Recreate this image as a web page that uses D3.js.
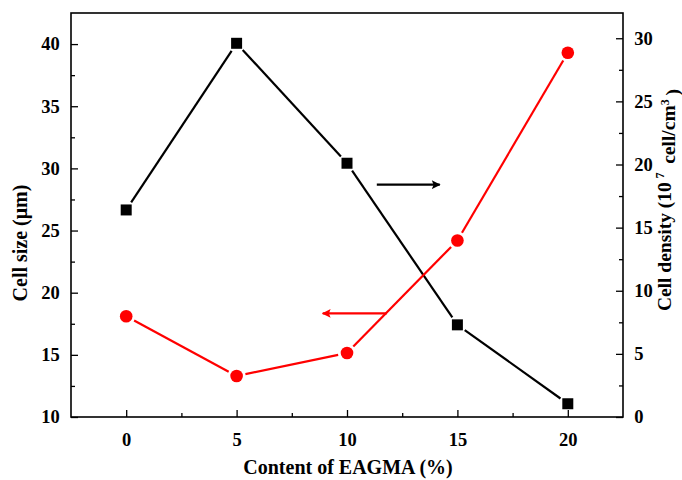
<!DOCTYPE html>
<html>
<head>
<meta charset="utf-8">
<script src="https://cdn.jsdelivr.net/npm/d3@7"></script>
<style>
  html, body { margin: 0; padding: 0; background: #fff; }
  svg { display: block; }
  text { font-family: "Liberation Serif", "Times New Roman", serif; font-weight: bold; fill: #000; }
</style>
</head>
<body>
<svg id="chart" width="682" height="480"></svg>
<script>
// EAGMA content (%)
const content = [0, 5, 10, 15, 20];
// Cell size (µm), left axis
const cellSize = [18.1, 13.3, 15.15, 24.2, 39.3];
// Cell density (10^7 cell/cm^3), right axis
const cellDensity = [16.4, 29.6, 20.1, 7.3, 1.05];

const xTicks = [0, 5, 10, 15, 20];
const leftTicks = [10, 15, 20, 25, 30, 35, 40];
const rightTicks = [0, 5, 10, 15, 20, 25, 30];

const svg = d3.select("#chart");
const m = { left: 71, right: 59, top: 13, bottom: 63 };
const W = 682, H = 480;
const iw = W - m.left - m.right, ih = H - m.top - m.bottom;

const x = d3.scaleLinear().domain([-2.5, 22.5]).range([m.left, m.left + iw]);
const yL = d3.scaleLinear().domain([10, 42.5]).range([m.top + ih, m.top]);
const yR = d3.scaleLinear().domain([0, 32]).range([m.top + ih, m.top]);

const minor = (lo, hi, step) => d3.range(lo, hi + 1e-9, step);

// inward major and minor ticks
function drawAxis(axisFn, scale, ticks, minors, transform) {
  const gMinor = svg.append("g").attr("transform", transform)
    .call(axisFn(scale).tickValues(minors).tickSize(-4).tickFormat(""));
  gMinor.select(".domain").remove();
  gMinor.selectAll("line").attr("stroke", "#000").attr("stroke-width", 1.3);
  const g = svg.append("g").attr("transform", transform)
    .call(axisFn(scale).tickValues(ticks).tickSize(-7).tickPadding(13).tickFormat(d3.format("d")));
  g.select(".domain").remove();
  g.selectAll("line").attr("stroke", "#000").attr("stroke-width", 1.3);
  g.selectAll("text").style("font-size", "18.5px");
  return g;
}

const gx = drawAxis(d3.axisBottom, x, xTicks,
  minor(-2.5, 22.5, 2.5).filter(v => !xTicks.includes(v) && v > -2.5 && v < 22.5),
  `translate(0,${m.top + ih})`);
gx.selectAll("text").attr("dy", "0.85em");
const gl = drawAxis(d3.axisLeft, yL, leftTicks,
  minor(10, 42.5, 2.5).filter(v => !leftTicks.includes(v) && v > 10 && v < 42.5),
  `translate(${m.left},0)`);
gl.selectAll("text").attr("dx", "0.1em");
const gr = drawAxis(d3.axisRight, yR, rightTicks,
  minor(0, 32, 2.5).filter(v => !rightTicks.includes(v) && v > 0 && v < 32),
  `translate(${m.left + iw},0)`);
gr.selectAll("text").attr("dx", "-0.1em");

// frame
svg.append("rect")
  .attr("x", m.left).attr("y", m.top).attr("width", iw).attr("height", ih)
  .attr("fill", "none").attr("stroke", "#000").attr("stroke-width", 1.6);

// connecting segments with small gaps at the markers
function gappedSegments(xs, ys, ysc, gap) {
  const pts = xs.map((v, i) => [x(v), ysc(ys[i])]);
  const segs = [];
  for (let i = 0; i < pts.length - 1; i++) {
    const [x1, y1] = pts[i], [x2, y2] = pts[i + 1];
    const len = Math.hypot(x2 - x1, y2 - y1);
    const ux = (x2 - x1) / len, uy = (y2 - y1) / len;
    segs.push([x1 + ux * gap, y1 + uy * gap, x2 - ux * gap, y2 - uy * gap]);
  }
  return segs;
}

function drawSeries(ys, ysc, color, shape) {
  const g = svg.append("g");
  g.selectAll("line").data(gappedSegments(content, ys, ysc, 9)).join("line")
    .attr("x1", d => d[0]).attr("y1", d => d[1]).attr("x2", d => d[2]).attr("y2", d => d[3])
    .attr("stroke", color).attr("stroke-width", 2.2);
  const sym = d3.symbol().type(shape === "square" ? d3.symbolSquare : d3.symbolCircle)
    .size(shape === "square" ? 121 : 125);
  g.selectAll("path").data(content).join("path")
    .attr("d", sym)
    .attr("transform", (d, i) => `translate(${x(d)},${ysc(ys[i])})`)
    .attr("fill", color);
}

drawSeries(cellDensity, yR, "#000", "square");
drawSeries(cellSize, yL, "#ff0000", "circle");

// arrows pointing to each series' axis
const defs = svg.append("defs");
function marker(id, color) {
  defs.append("marker").attr("id", id).attr("viewBox", "0 0 10 10")
    .attr("refX", 9).attr("refY", 5).attr("markerWidth", 5).attr("markerHeight", 4)
    .attr("markerUnits", "strokeWidth").attr("orient", "auto")
    .append("path").attr("d", "M0,0 L10,5 L0,10 L2,5 Z").attr("fill", color);
}
marker("arrBlack", "#000");
marker("arrRed", "#ff0000");

const densityArrow = { from: 11.35, to: 14.2, value: 18.4 };
const sizeArrow = { from: 11.8, to: 8.9, value: 18.33 };

svg.append("line")
  .attr("x1", x(densityArrow.from)).attr("x2", x(densityArrow.to))
  .attr("y1", yR(densityArrow.value)).attr("y2", yR(densityArrow.value))
  .attr("stroke", "#000").attr("stroke-width", 2.2).attr("marker-end", "url(#arrBlack)");
svg.append("line")
  .attr("x1", x(sizeArrow.from)).attr("x2", x(sizeArrow.to))
  .attr("y1", yL(sizeArrow.value)).attr("y2", yL(sizeArrow.value))
  .attr("stroke", "#ff0000").attr("stroke-width", 2.2).attr("marker-end", "url(#arrRed)");

// axis titles
svg.append("text")
  .attr("x", m.left + iw / 2 + 1).attr("y", 474)
  .attr("text-anchor", "middle").style("font-size", "20px")
  .text("Content of EAGMA (%)");

svg.append("text")
  .attr("transform", `translate(27,243) rotate(-90)`)
  .attr("text-anchor", "middle").style("font-size", "20px")
  .text("Cell size (\u03bcm)");

const rt = svg.append("text")
  .attr("transform", `translate(671,200) rotate(-90)`)
  .attr("text-anchor", "middle").style("font-size", "19.5px");
rt.append("tspan").text("Cell density (10");
rt.append("tspan").attr("dy", "-0.55em").attr("dx", "0.3em").style("font-size", "12px").text("7");
rt.append("tspan").attr("dy", "0.55em").attr("dx", "0.2em").text(" cell/cm");
rt.append("tspan").attr("dy", "-0.55em").style("font-size", "12px").text("3");
rt.append("tspan").attr("dy", "0.55em").attr("dx", "0.2em").text(")");
</script>
</body>
</html>
